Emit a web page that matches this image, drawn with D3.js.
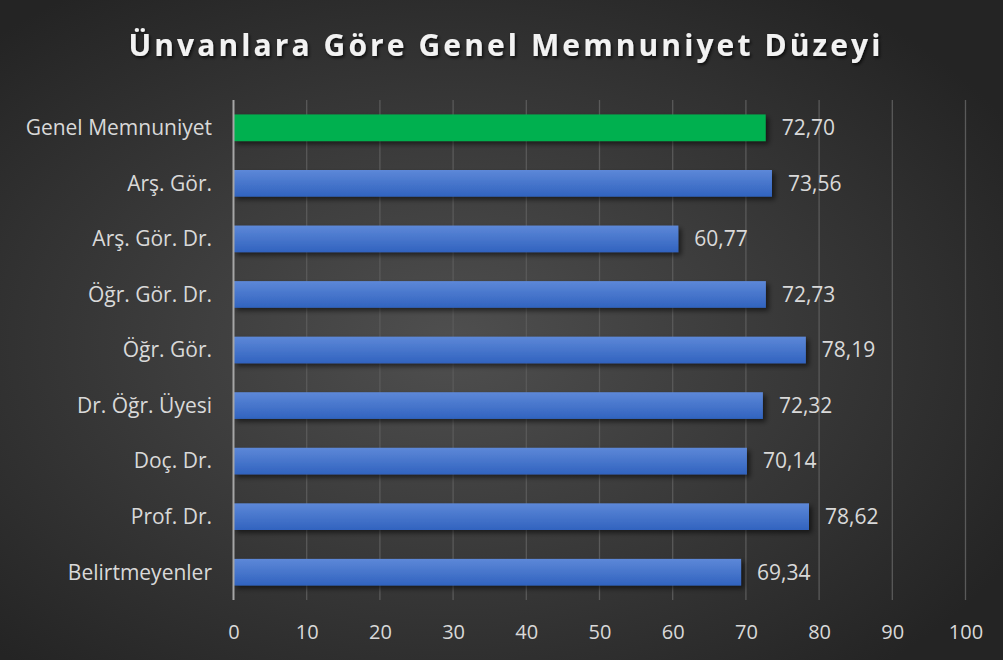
<!DOCTYPE html>
<html><head><meta charset="utf-8">
<script src="https://cdn.jsdelivr.net/npm/d3@7"></script>
<style>html,body{margin:0;padding:0;background:#2a2a2a;}svg{display:block;}</style>
</head><body>
<svg id="chart" width="1003" height="660"></svg>
<script>
const categories = ["Genel Memnuniyet","Arş. Gör.","Arş. Gör. Dr.","Öğr. Gör. Dr.","Öğr. Gör.","Dr. Öğr. Üyesi","Doç. Dr.","Prof. Dr.","Belirtmeyenler"];
const values = [72.70,73.56,60.77,72.73,78.19,72.32,70.14,78.62,69.34];
const highlight = [true,false,false,false,false,false,false,false,false];
const xTicks = [0,10,20,30,40,50,60,70,80,90,100];
const title = "Ünvanlara Göre Genel Memnuniyet Düzeyi";

const W = 1003, H = 660;
const svg = d3.select("#chart");
const defs = svg.append("defs");
const bg = defs.append("radialGradient").attr("id","bg").attr("cx","45%").attr("cy","52%").attr("r","65%");
bg.append("stop").attr("offset","0%").attr("stop-color","#4f4f4f");
bg.append("stop").attr("offset","100%").attr("stop-color","#242424");
const bl = defs.append("linearGradient").attr("id","blue").attr("x1",0).attr("y1",0).attr("x2",0).attr("y2",1);
bl.append("stop").attr("offset","0%").attr("stop-color","#5d88d8");
bl.append("stop").attr("offset","100%").attr("stop-color","#3163bf");
const sh = defs.append("filter").attr("id","sh").attr("x","-5%").attr("y","-30%").attr("width","115%").attr("height","190%");
sh.append("feDropShadow").attr("dx",3).attr("dy",3).attr("stdDeviation",2.5).attr("flood-color","#000").attr("flood-opacity",0.55);
const tsh = defs.append("filter").attr("id","tsh").attr("x","-5%").attr("y","-30%").attr("width","110%").attr("height","170%");
tsh.append("feDropShadow").attr("dx",1.5).attr("dy",2).attr("stdDeviation",1.5).attr("flood-color","#000").attr("flood-opacity",0.7);

svg.append("rect").attr("width",W).attr("height",H).attr("fill","url(#bg)");

const x = d3.scaleLinear().domain([0,100]).range([233.5,965.5]);
const y = d3.scaleBand().domain(categories).range([100,600]).paddingInner(0.52).paddingOuter(0.26);

// gridlines
svg.append("g").selectAll("line").data(xTicks.slice(1)).join("line")
  .attr("x1",d=>x(d)).attr("x2",d=>x(d)).attr("y1",100).attr("y2",600)
  .attr("stroke","#5a5a5a").attr("stroke-width",1.3);

// bars
svg.append("g").selectAll("rect").data(categories).join("rect")
  .attr("x",x(0)).attr("y",d=>y(d)).attr("height",y.bandwidth())
  .attr("width",(d,i)=>x(values[i])-x(0))
  .attr("fill",(d,i)=>highlight[i]?"#00b050":"url(#blue)")
  .attr("filter","url(#sh)");

// axis line at zero
svg.append("line").attr("x1",x(0)).attr("x2",x(0)).attr("y1",100).attr("y2",600)
  .attr("stroke","#a6a6a6").attr("stroke-width",2);

// value labels
svg.append("g").selectAll("text").data(categories).join("text")
  .attr("x",(d,i)=>x(values[i])+16).attr("y",d=>y(d)+y.bandwidth()/2)
  .attr("dy","0.35em").attr("fill","#d9d9d9")
  .style("font-family","'Open Sans', sans-serif").style("font-size","21px")
  .text((d,i)=>d3.format(".2f")(values[i]).replace(".",","));

// category labels
svg.append("g").selectAll("text").data(categories).join("text")
  .attr("x",212).attr("y",d=>y(d)+y.bandwidth()/2)
  .attr("dy","0.35em").attr("text-anchor","end").attr("fill","#d9d9d9")
  .style("font-family","'Open Sans', sans-serif").style("font-size","21px")
  .text(d=>d);

// x axis tick labels
const xAxis = d3.axisBottom(x).tickValues(xTicks).tickSize(0).tickPadding(0);
const gx = svg.append("g").attr("transform","translate(0,632)").call(xAxis);
gx.select(".domain").remove();
gx.selectAll("text").attr("fill","#d9d9d9").attr("dy","0.35em")
  .style("font-family","'Open Sans', sans-serif").style("font-size","20px");

// title
svg.append("text").attr("x",506).attr("y",56).attr("text-anchor","middle")
  .attr("fill","#f2f2f2").attr("filter","url(#tsh)")
  .style("font-family","'Open Sans', sans-serif").style("font-size","30px").style("font-weight","700")
  .style("letter-spacing","3.1px")
  .text(title);
</script>
</body></html>
